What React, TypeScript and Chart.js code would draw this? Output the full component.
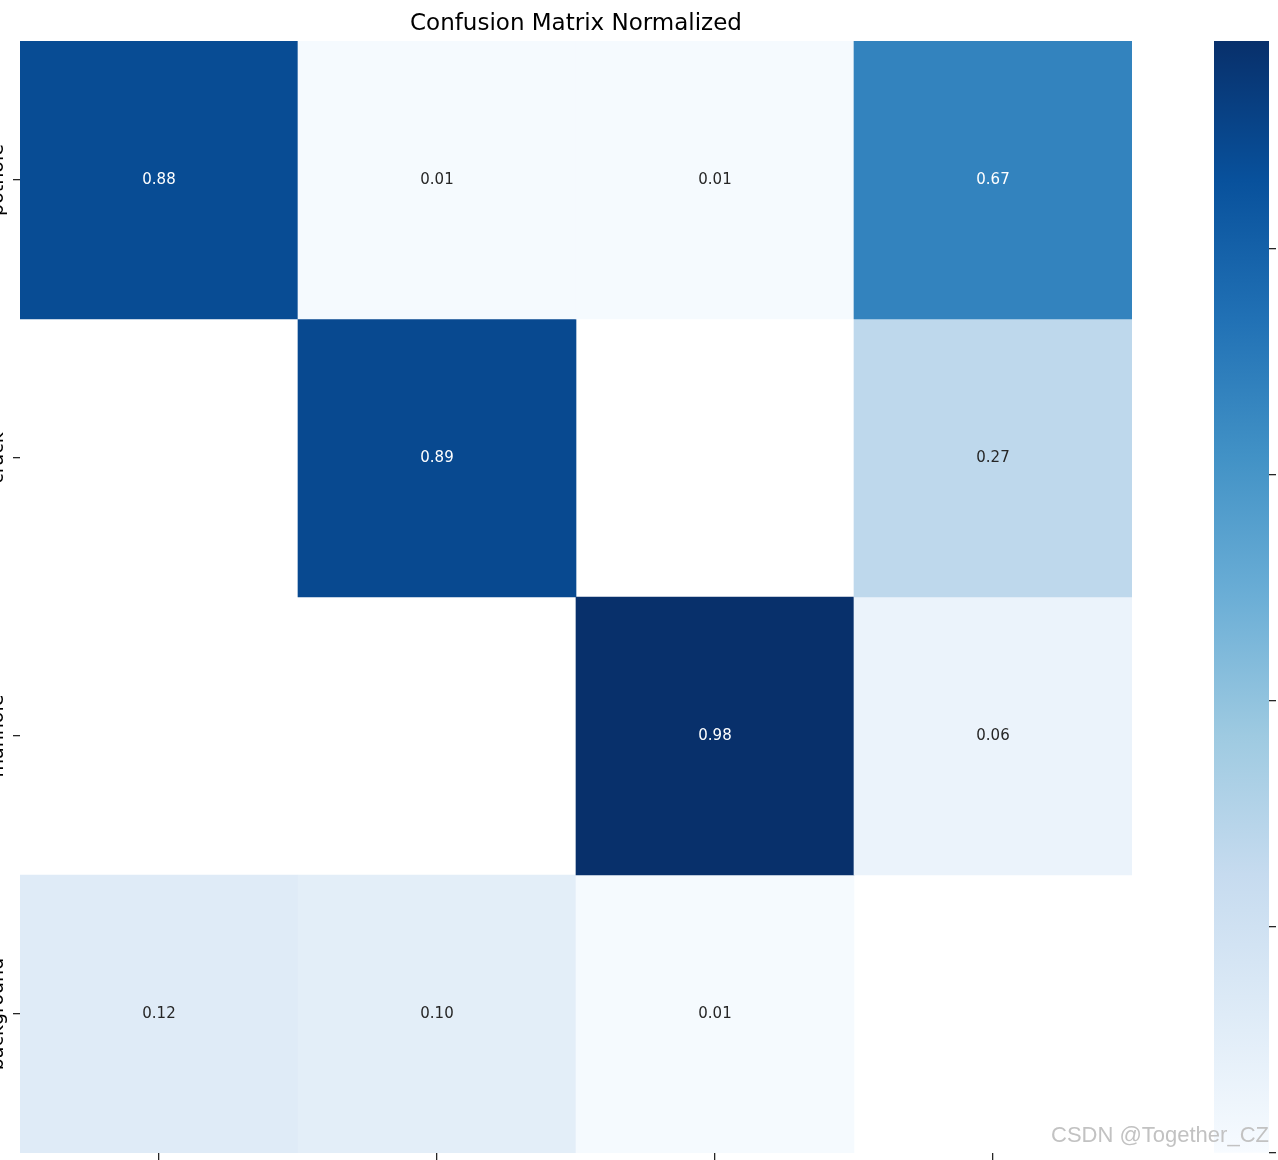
import React, { useEffect, useRef } from "react";
import { Chart, registerables } from "chart.js";

Chart.register(...registerables);

const TITLE = "Confusion Matrix Normalized";
const COL_LABELS = ["pothole", "crack", "manhole", "background"];
const ROW_LABELS = ["pothole", "crack", "manhole", "background"];
const ROW_POTHOLE: (number | null)[] = [0.88, 0.01, 0.01, 0.67];
const ROW_CRACK: (number | null)[] = [null, 0.89, null, 0.27];
const ROW_MANHOLE: (number | null)[] = [null, null, 0.984, 0.06];
const ROW_BACKGROUND: (number | null)[] = [0.12, 0.1, 0.01, null];
const COLORBAR_TICKS = [0, 0.2, 0.4, 0.6, 0.8];
const BLUES = [
  "#f7fbff", "#deebf7", "#c6dbef", "#9ecae1", "#6baed6",
  "#4292c6", "#2171b5", "#08519c", "#08306b",
];
const WATERMARK = "CSDN @Together_CZ";

const ROWS = [ROW_POTHOLE, ROW_CRACK, ROW_MANHOLE, ROW_BACKGROUND];

function hexToRgb(h: string): number[] {
  return [1, 3, 5].map((i) => parseInt(h.slice(i, i + 2), 16));
}
function bluesRgb(t: number): number[] {
  const tt = Math.max(0, Math.min(1, t));
  const pos = tt * (BLUES.length - 1);
  const i = Math.min(BLUES.length - 2, Math.floor(pos));
  const f = pos - i;
  const a = hexToRgb(BLUES[i]);
  const b = hexToRgb(BLUES[i + 1]);
  return a.map((v, k) => Math.round(v + (b[k] - v) * f));
}
function rgbStr(c: number[]) {
  return `rgb(${c[0]},${c[1]},${c[2]})`;
}
function luminance(c: number[]) {
  const f = (x: number) => {
    x /= 255;
    return x <= 0.03928 ? x / 12.92 : Math.pow((x + 0.055) / 1.055, 2.4);
  };
  return 0.2126 * f(c[0]) + 0.7152 * f(c[1]) + 0.0722 * f(c[2]);
}

const FONT = "'DejaVu Sans', sans-serif";
const TICK_COLOR = "#262626";

export default function App() {
  const mainRef = useRef<HTMLCanvasElement | null>(null);
  const cbRef = useRef<HTMLCanvasElement | null>(null);

  useEffect(() => {
    const allVals = ROWS.flat().filter((v) => v != null) as number[];
    const vmax = Math.max(...allVals);
    const vmin = 0;
    const norm = (v: number) => (v - vmin) / (vmax - vmin);

    const datasets = ROWS.map((row, r) => ({
      label: ROW_LABELS[r],
      data: row.map((v) => (v == null ? null : [r, r + 1])),
      backgroundColor: row.map((v) =>
        v == null ? "rgba(0,0,0,0)" : rgbStr(bluesRgb(norm(v)))
      ),
      borderWidth: 0,
      grouped: false,
      categoryPercentage: 1,
      barPercentage: 1,
    }));

    const annotatePlugin = {
      id: "annotate",
      afterDatasetsDraw(chart: any) {
        const { ctx, scales } = chart;
        ctx.save();
        ctx.font = `15px ${FONT}`;
        ctx.textAlign = "center";
        ctx.textBaseline = "middle";
        ROWS.forEach((row, r) => {
          row.forEach((v, c) => {
            if (v == null) return;
            const col = bluesRgb(norm(v));
            ctx.fillStyle = luminance(col) > 0.408 ? "#262626" : "#ffffff";
            const x = scales.x.getPixelForValue(c);
            const y = scales.y.getPixelForValue(r + 0.5);
            ctx.fillText(v.toFixed(2), x, y);
          });
        });
        ctx.restore();
      },
      afterDraw(chart: any) {
        const { ctx, scales } = chart;
        ctx.save();
        ctx.font = `19px ${FONT}`;
        ctx.fillStyle = "#000000";
        ctx.textAlign = "center";
        ctx.textBaseline = "bottom";
        ROW_LABELS.forEach((lab, r) => {
          const y = scales.y.getPixelForValue(r + 0.5);
          const x = scales.y.right - 7 - 5;
          ctx.save();
          ctx.translate(x, y);
          ctx.rotate(-Math.PI / 2);
          ctx.fillText(lab, 0, 0);
          ctx.restore();
        });
        ctx.restore();
      },
    };

    const main = new Chart(mainRef.current as HTMLCanvasElement, {
      type: "bar",
      data: { labels: COL_LABELS, datasets: datasets as any },
      options: {
        responsive: false,
        animation: false,
        layout: { padding: { left: 0, right: 20, top: 0, bottom: 0 } },
        plugins: {
          legend: { display: false },
          tooltip: { enabled: false },
          title: {
            display: true,
            text: TITLE,
            color: "#000000",
            fullSize: false,
            font: { family: FONT, size: 23, weight: "normal" },
            padding: { top: 10, bottom: 3.4 },
          },
        },
        scales: {
          x: {
            type: "category",
            offset: true,
            border: { display: false },
            grid: {
              display: true,
              offset: false,
              drawOnChartArea: false,
              drawTicks: true,
              tickLength: 7,
              color: TICK_COLOR,
              lineWidth: 1.3,
            },
            ticks: { display: false },
            afterFit: (s: any) => {
              s.height = 7;
            },
          },
          y: {
            type: "linear",
            min: 0,
            max: ROW_LABELS.length,
            reverse: true,
            border: { display: false },
            grid: {
              display: true,
              drawOnChartArea: false,
              drawTicks: true,
              tickLength: 7,
              color: TICK_COLOR,
              lineWidth: 1.3,
            },
            ticks: { display: false },
            afterBuildTicks: (s: any) => {
              s.ticks = ROW_LABELS.map((_, i) => ({ value: i + 0.5 }));
            },
            afterFit: (s: any) => {
              s.width = 20;
            },
          },
        },
      } as any,
      plugins: [annotatePlugin],
    });

    const cb = new Chart(cbRef.current as HTMLCanvasElement, {
      type: "bar",
      data: {
        labels: ["colorbar"],
        datasets: [
          {
            data: [[vmin, vmax]],
            borderWidth: 0,
            categoryPercentage: 1,
            barPercentage: 1,
            backgroundColor: (context: any) => {
              const chart = context.chart;
              const area = chart.chartArea;
              if (!area) return BLUES[4];
              const g = chart.ctx.createLinearGradient(0, area.bottom, 0, area.top);
              BLUES.forEach((c, i) => g.addColorStop(i / (BLUES.length - 1), c));
              return g;
            },
          } as any,
        ],
      },
      options: {
        responsive: false,
        animation: false,
        layout: { padding: { left: 0, right: 0, top: 41, bottom: 7 } },
        plugins: { legend: { display: false }, tooltip: { enabled: false } },
        scales: {
          x: { display: false },
          y: {
            type: "linear",
            position: "right",
            min: vmin,
            max: vmax,
            border: { display: false },
            grid: {
              display: true,
              drawOnChartArea: false,
              drawTicks: true,
              tickLength: 7,
              color: TICK_COLOR,
              lineWidth: 1.3,
            },
            ticks: { display: false },
            afterBuildTicks: (s: any) => {
              s.ticks = COLORBAR_TICKS.map((v) => ({ value: v }));
            },
            afterFit: (s: any) => {
              s.width = 9;
            },
          },
        },
      } as any,
    });

    return () => {
      main.destroy();
      cb.destroy();
    };
  }, []);

  return (
    <div
      style={{
        position: "absolute",
        left: 0,
        top: 0,
        width: 1278,
        height: 1160,
        overflow: "hidden",
        background: "#ffffff",
      }}
    >
      <canvas
        ref={mainRef}
        width={1152}
        height={1160}
        style={{ position: "absolute", left: 0, top: 0, width: 1152, height: 1160 }}
      />
      <canvas
        ref={cbRef}
        width={64}
        height={1160}
        style={{ position: "absolute", left: 1214, top: 0, width: 64, height: 1160 }}
      />
      <div
        style={{
          position: "absolute",
          left: 1051,
          top: 1122,
          fontFamily: "'Liberation Sans', Arial, sans-serif",
          fontSize: 22,
          color: "#c2c2c2",
          whiteSpace: "nowrap",
          zIndex: 2,
        }}
      >
        {WATERMARK}
      </div>
    </div>
  );
}
